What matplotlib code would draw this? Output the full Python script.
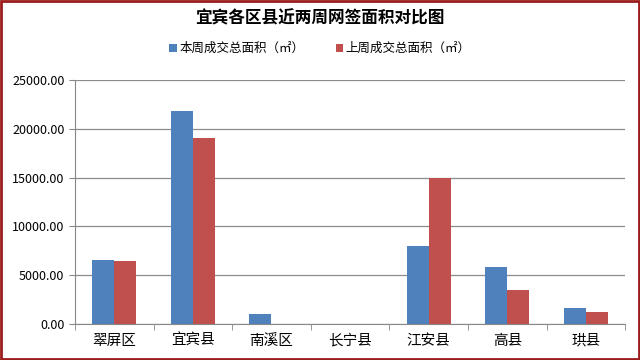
import numpy as np
import matplotlib
matplotlib.use('Agg')
import matplotlib.pyplot as plt
from matplotlib.patches import Rectangle

plt.rcParams['font.family'] = ['Noto Sans CJK SC', 'DejaVu Sans']

districts = ['翠屏区', '宜宾县', '南溪区', '长宁县', '江安县', '高县', '珙县']
this_week = [6550, 21800, 1000, 0, 8000, 5800, 1650]
last_week = [6450, 19050, 0, 0, 15000, 3450, 1200]
yticks = [0, 5000, 10000, 15000, 20000, 25000]

fig = plt.figure(figsize=(6.4, 3.6), dpi=100)
ax = fig.add_axes([0.117, 0.1, 0.86, 0.678])

x = np.arange(len(districts))
w = 0.28
ax.bar(x - w / 2, this_week, w, color='#4F81BD', label='本周成交总面积（㎡）')
ax.bar(x + w / 2, last_week, w, color='#C0504D', label='上周成交总面积（㎡）')

ax.set_xlim(-0.5, len(districts) - 0.5)
ax.set_ylim(0, 25000)
ax.set_yticks(yticks)
ax.set_yticklabels([f'{v:.2f}' for v in yticks], fontsize=9)
ax.set_xticks(x)
ax.set_xticklabels(districts, fontsize=10.5)
ax.set_xticks(np.arange(len(districts) + 1) - 0.5, minor=True)
ax.tick_params(axis='x', which='major', length=0, pad=7)
ax.tick_params(axis='x', which='minor', length=4, color='#888888')
ax.tick_params(axis='y', length=4, color='#888888')
ax.yaxis.grid(True, color='#8c8c8c', linewidth=0.9)
ax.set_axisbelow(True)
for s in ['top', 'right']:
    ax.spines[s].set_visible(False)
for s in ['left', 'bottom']:
    ax.spines[s].set_color('#888888')

fig.text(0.5, 0.95, '宜宾各区县近两周网签面积对比图', ha='center', va='center',
         fontsize=12, fontweight='bold')
fig.legend(loc='center', bbox_to_anchor=(0.5, 0.865), ncol=2, frameon=False,
           fontsize=9, handlelength=0.6, handleheight=0.6, columnspacing=2.5,
           handletextpad=0.2)

fig.patches.append(Rectangle((0.002, 0.003), 0.996, 0.994, transform=fig.transFigure,
                             fill=False, edgecolor='#9B1C1C', linewidth=2))

fig.savefig('out.png', dpi=100)
